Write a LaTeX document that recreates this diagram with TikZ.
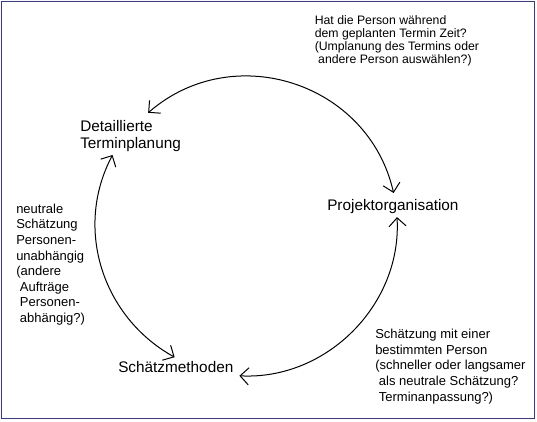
\documentclass[tikz,border=0pt]{standalone}
\usepackage{fontspec}
\setmainfont{Liberation Sans}
\usepackage{tikz}
\usetikzlibrary{arrows.meta}
\definecolor{frameblue}{RGB}{51,51,204}
\newcommand{\lsp}{\hspace*{0.28em}}

\begin{document}
\begin{tikzpicture}[x=0.75pt, y=0.75pt,
  stage/.style={inner sep=0pt, anchor=west, align=left, font=\fontsize{11.5}{12.75}\selectfont},
  note/.style={inner sep=0pt, anchor=west, align=left, font=\fontsize{9.75}{11.7}\selectfont},
  cycle/.style={line width=0.75pt, {Straight Barb[length=6.4pt,width=12.8pt]}-{Straight Barb[length=6.4pt,width=12.8pt]}}]
\useasboundingbox (0,0) rectangle (537,422);
\draw[frameblue, line width=0.75pt] (1.5,3) rectangle (534,420.5);

\node[stage] (plan) at (80,286) {Detaillierte\\Terminplanung};
\node[stage] (org) at (327,215.5) {Projektorganisation};
\node[stage] (meth) at (118,55) {Schätzmethoden};

\node[note, font=\fontsize{9.2}{9.75}\selectfont] (ask) at (314.5,381.5) {Hat die Person während\\dem geplanten Termin Zeit?\\(Umplanung des Termins oder\\\lsp andere Person auswählen?)};
\node[note] (neutral) at (16,157.5) {neutrale\\Schätzung\\Personen-\\unabhängig\\(andere\\\lsp Aufträge\\\lsp Personen-\\\lsp abhängig?)};
\node[note] (person) at (375,55.5) {Schätzung mit einer\\bestimmten Person\\(schneller oder langsamer\\\lsp als neutrale Schätzung?\\\lsp Terminanpassung?)};

\draw[cycle] ([shift={(0.7,13.5)}]org.center) to[out=102.7, in=41, looseness=1.12] ([shift={(17.6,23.2)}]plan.center);
\draw[cycle] ([shift={(-18,-19)}]plan.center) to[out=242, in=151] ([shift={(-1.2,9.8)}]meth.center);
\draw[cycle] ([shift={(63.6,-8.8)}]meth.center) to[out=357, in=273.4] ([shift={(4.1,-10.6)}]org.center);
\end{tikzpicture}
\end{document}
